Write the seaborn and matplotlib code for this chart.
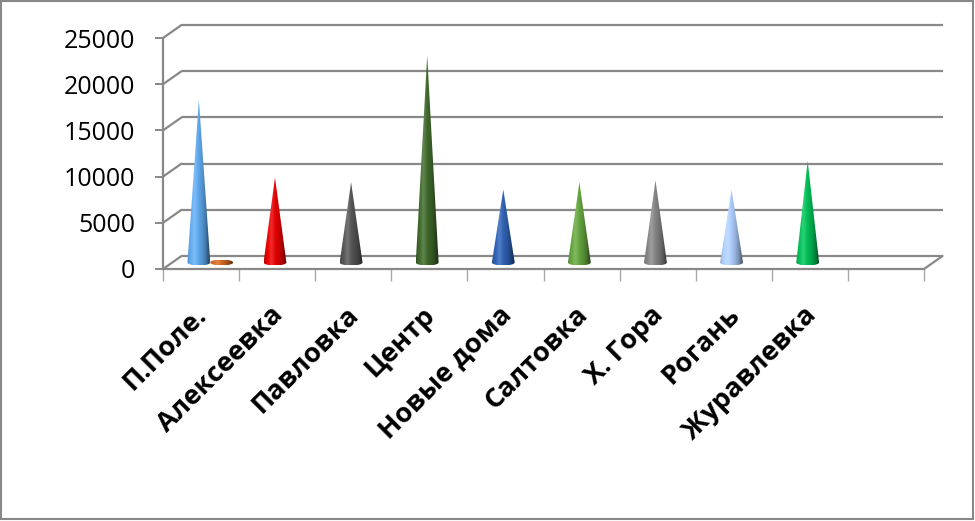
import numpy as np
import pandas as pd
import matplotlib
matplotlib.use("Agg")
import matplotlib.pyplot as plt
import seaborn as sns
from matplotlib.patches import Polygon, Rectangle
from matplotlib.colors import to_rgb

# ---- data -------------------------------------------------------------
districts = ["П.Поле.", "Алексеевка", "Павловка", "Центр", "Новые дома",
             "Салтовка", "Х. Гора", "Рогань", "Журавлевка", ""]
series_main = [17600, 9200, 8700, 22400, 7900, 8700, 8900, 7900, 11000, np.nan]
series_second = [150, np.nan, np.nan, np.nan, np.nan,
                 np.nan, np.nan, np.nan, np.nan, np.nan]
y_ticks = [0, 5000, 10000, 15000, 20000, 25000]

cone_colors = ["#5A9FE0", "#D80000", "#505050", "#3B6228", "#2C5BA8",
               "#5E9A3A", "#7C7C7C", "#A3C0EE", "#00B451"]
second_color = "#C8621E"
grid_color = "#888888"

# ---- figure / axes (front plane of the 3-D box) ------------------------
sns.set_theme(style="white")
plt.rcParams["font.family"] = ["Open Sans", "DejaVu Sans"]

W, H = 975, 521
fig = plt.figure(figsize=(W / 100, H / 100), dpi=100)
ax = fig.add_axes([163 / W, 1 - 269 / H, (924 - 163) / W, (269 - 38) / H])

df = pd.DataFrame({
    "district": districts * 2,
    "value": series_main + series_second,
    "series": ["main"] * len(districts) + ["second"] * len(districts),
})
sns.barplot(data=df, x="district", y="value", hue="series", order=districts,
            hue_order=["main", "second"], width=0.6, dodge=True,
            errorbar=None, legend=False, ax=ax)

ax.set_xlim(-0.5, len(districts) - 0.5)
ax.set_ylim(0, 25000)

# pixel scale of the data axes, used for the depth offset of the box
ppx = ax.get_position().width * W / len(districts)
ppy = ax.get_position().height * H / 25000
back_dx, back_dy = 18.5 / ppx, 13.0 / ppy
x0, x1 = -0.5, len(districts) - 0.5

# back wall gridlines and the left depth edges
for v in y_ticks:
    ax.plot([x0 + back_dx, x1 + back_dx], [v + back_dy] * 2, color=grid_color,
            lw=1.6, clip_on=False, zorder=1, solid_capstyle="butt")
    ax.plot([x0, x0 + back_dx], [v, v + back_dy], color=grid_color,
            lw=1.6, clip_on=False, zorder=1)
# right edge of the floor
ax.plot([x1, x1 + back_dx], [0, back_dy], color=grid_color, lw=1.6,
        clip_on=False, zorder=1)


def convex_hull(pts):
    pts = sorted(map(tuple, pts))

    def cross(o, a, b):
        return (a[0] - o[0]) * (b[1] - o[1]) - (a[1] - o[1]) * (b[0] - o[0])

    lower, upper = [], []
    for p in pts:
        while len(lower) >= 2 and cross(lower[-2], lower[-1], p) <= 0:
            lower.pop()
        lower.append(p)
    for p in reversed(pts):
        while len(upper) >= 2 and cross(upper[-2], upper[-1], p) <= 0:
            upper.pop()
        upper.append(p)
    return np.array(lower[:-1] + upper[:-1])


def shaded_strip(color, n=64):
    base = np.array(to_rgb(color))
    s = np.linspace(-1, 1, n)
    nz = np.sqrt(np.clip(1 - s ** 2, 0, 1))
    light = np.array([-0.45, 0.9])
    light = light / np.linalg.norm(light)
    diffuse = np.clip(s * light[0] + nz * light[1], 0, 1)
    rgb = base[None, :] * (0.5 + 0.6 * diffuse[:, None])
    spec = 0.16 * np.exp(-((s + 0.35) / 0.22) ** 2)
    rgb = rgb + (1 - rgb) * spec[:, None]
    rgb = np.clip(rgb, 0, 1)
    return np.repeat(rgb[None, :, :], 2, axis=0)


# turn every seaborn bar into a shaded cone standing at mid depth
ry = 3.0 / ppy
for patch in list(ax.patches):
    h = patch.get_height()
    patch.set_visible(False)
    if not np.isfinite(h) or h <= 0:
        continue
    cx = patch.get_x() + patch.get_width() / 2
    idx = int(round(cx))
    is_main = cx < idx
    color = cone_colors[idx] if is_main else second_color
    half = patch.get_width() / 2
    mx, my = cx + back_dx / 2, back_dy / 2
    theta = np.linspace(0, 2 * np.pi, 90, endpoint=False)
    ell = np.column_stack([mx + half * np.cos(theta), my + ry * np.sin(theta)])
    hull = convex_hull(np.vstack([ell, [[mx, my + h]]]))
    poly = Polygon(hull, closed=True, facecolor="none", edgecolor="none",
                   transform=ax.transData)
    ax.add_patch(poly)
    im = ax.imshow(shaded_strip(color), extent=[mx - half, mx + half, my - ry, my + h],
                   origin="lower", aspect="auto", interpolation="bilinear", zorder=3)
    im.set_clip_path(poly)

ax.set_xlim(x0, x1)
ax.set_ylim(0, 25000)
ax.set_xlabel("")
ax.set_ylabel("")

# axes styling
for side in ("top", "right"):
    ax.spines[side].set_visible(False)
for side in ("left", "bottom"):
    ax.spines[side].set_color(grid_color)
    ax.spines[side].set_linewidth(1.6)
ax.set_yticks(y_ticks)
ax.set_yticklabels([str(v) for v in y_ticks])
ax.tick_params(axis="y", direction="out", length=5.8, width=1.4, color=grid_color,
               pad=14, labelsize=18, labelcolor="black", left=True)
ax.set_xticks(np.arange(x0, x1 + 0.01, 1), minor=True)
ax.tick_params(axis="x", which="minor", direction="out", length=8.6, width=1.0,
               color="#A8A8A8", bottom=True)
ax.tick_params(axis="x", which="major", length=0, labelbottom=False)
ax.grid(False)

# rotated district names under the floor
for i, name in enumerate(districts):
    if not name:
        continue
    ax.annotate(name, xy=(i, 0), xycoords=("data", "axes fraction"),
                xytext=(2 * 0.72, -42 * 0.72), textcoords="offset points",
                rotation=45, rotation_mode="anchor", ha="right", va="center",
                fontsize=19.5, fontweight="bold", color="black")

# chart border
fig.patches.append(Rectangle((1 / W, 2 / H), 972 / W, 518 / H, fill=False,
                             edgecolor=grid_color, lw=1.5, transform=fig.transFigure))

fig.savefig("out.png", dpi=100)
